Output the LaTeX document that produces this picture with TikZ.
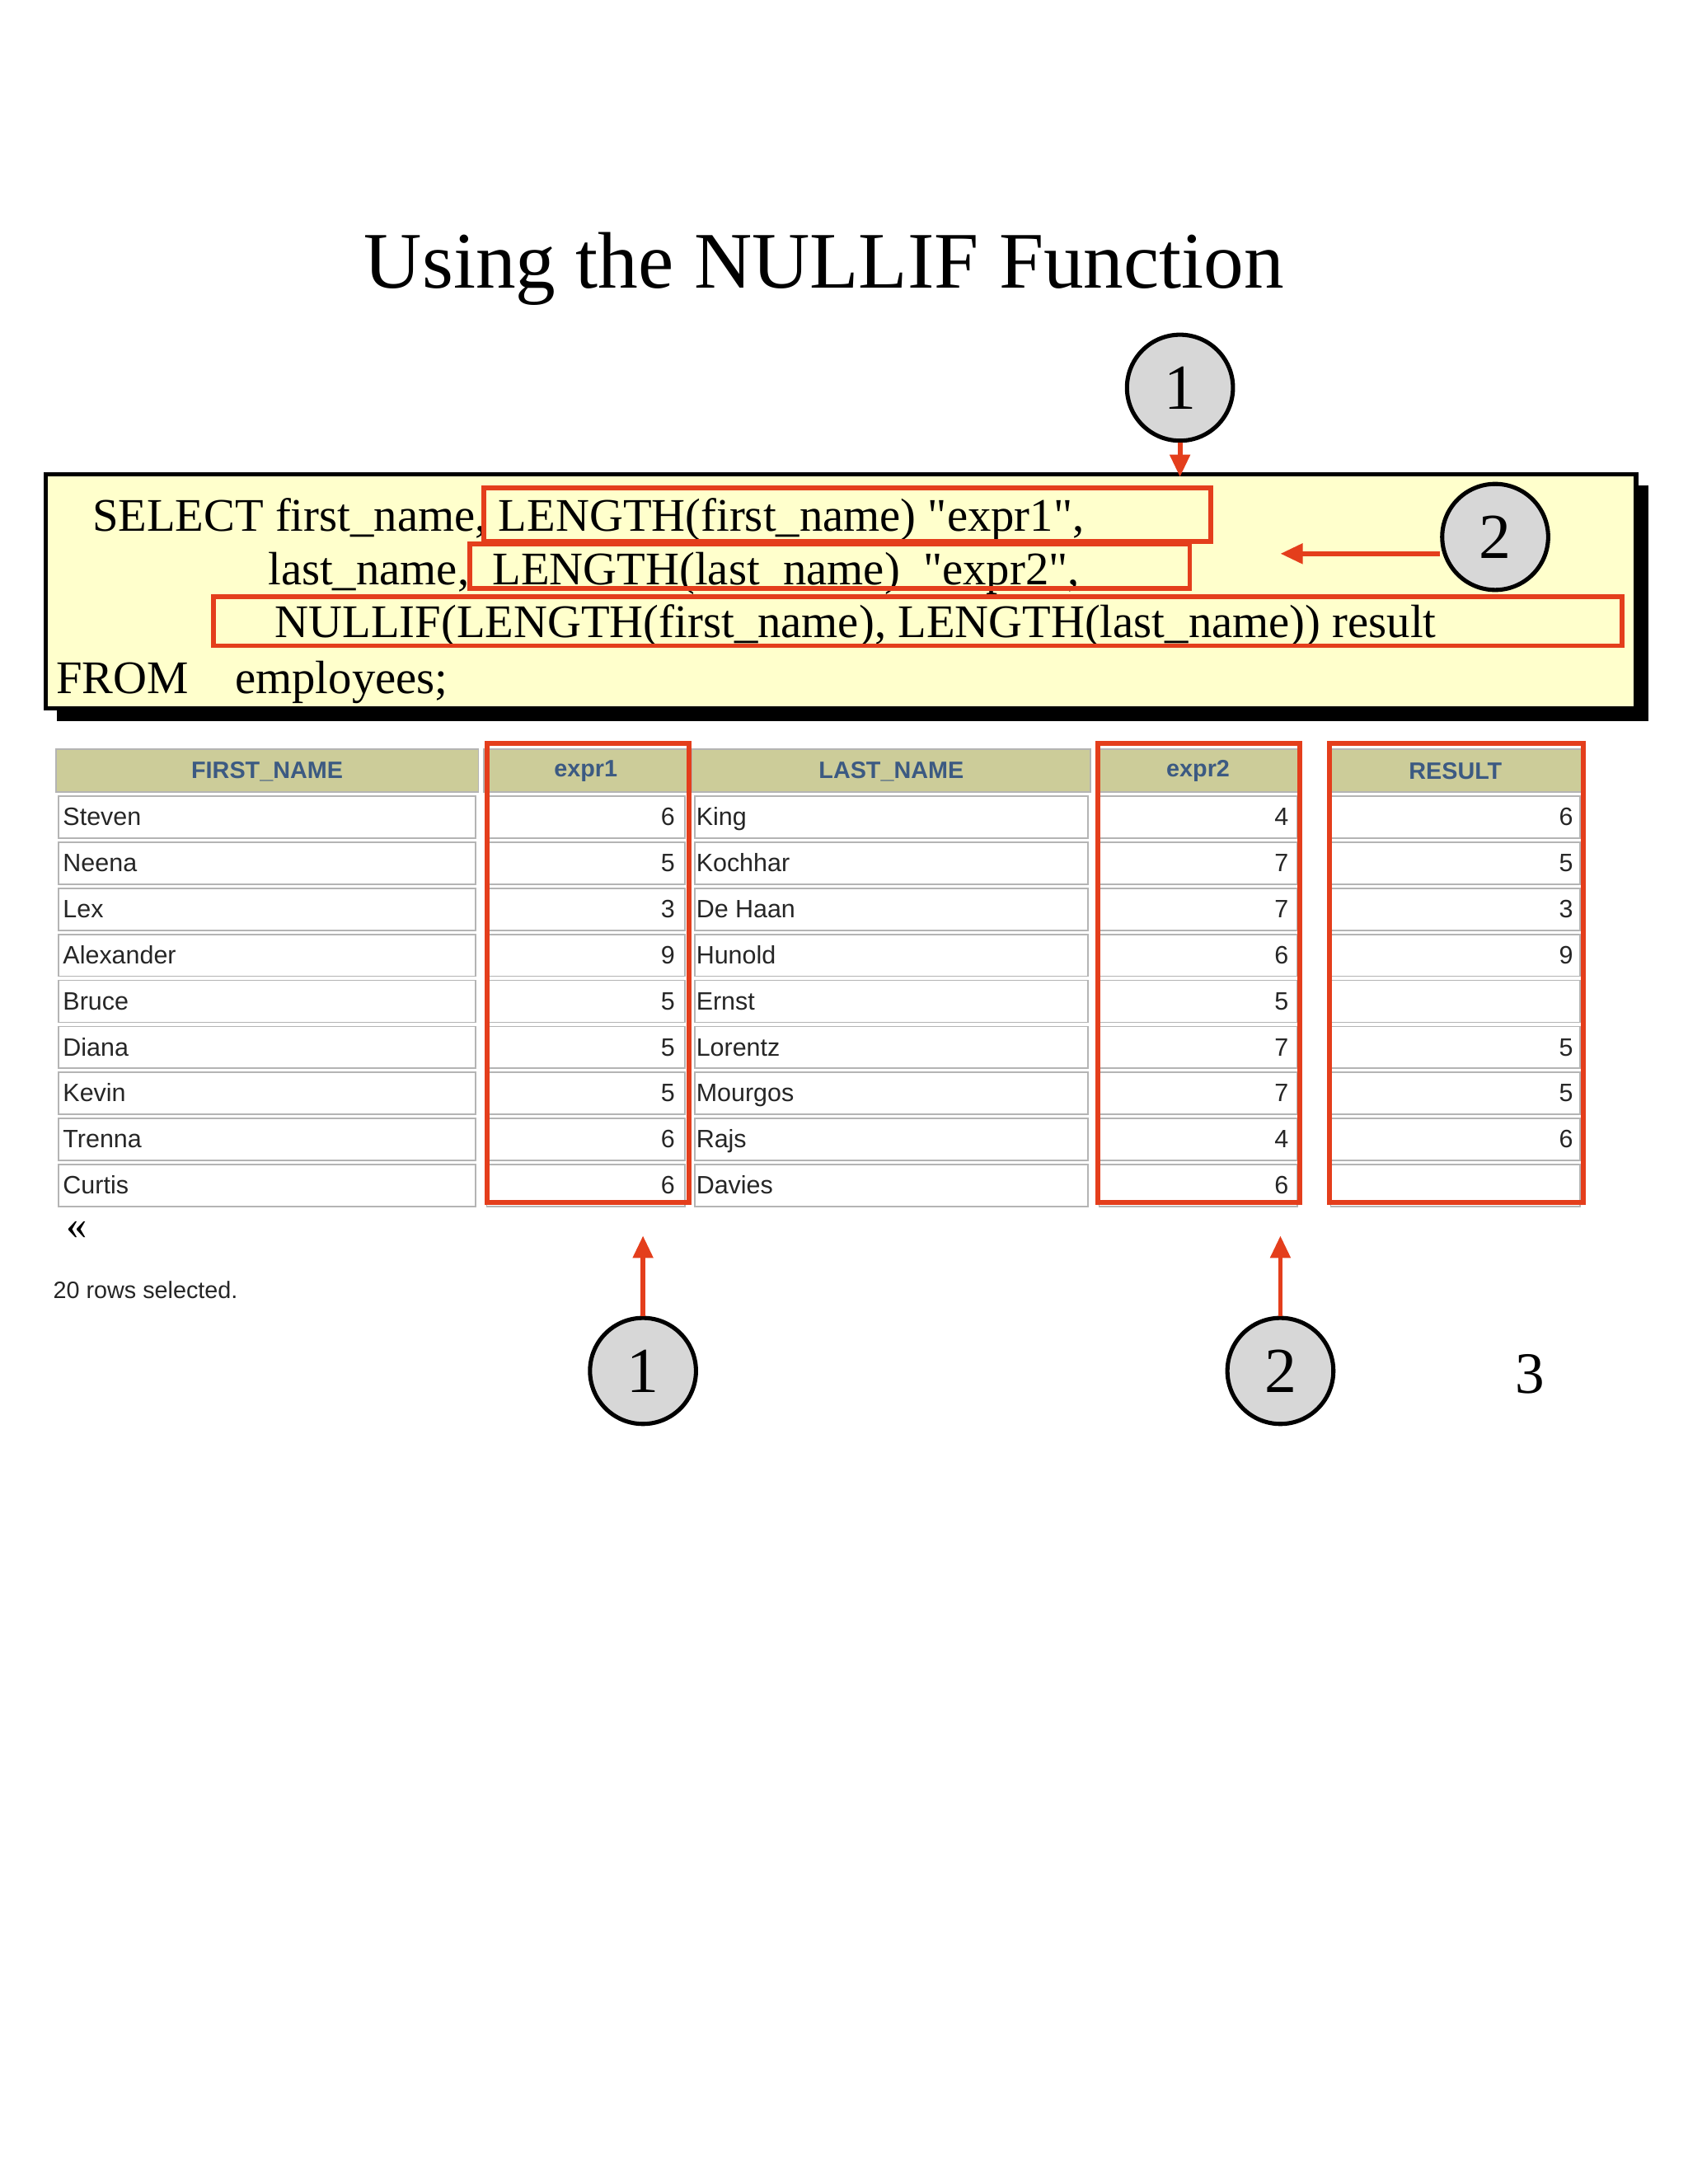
\documentclass[tikz,border=0pt]{standalone}
\usepackage{fontspec}
\setmainfont{Liberation Serif}
\newfontfamily\sqlfont{Liberation Serif}[Ligatures=ResetAll]
\newfontfamily\tabfont{Liberation Sans}
\usetikzlibrary{arrows.meta}
\definecolor{sqlbg}{RGB}{255,255,204}
\definecolor{hl}{RGB}{228,62,28}
\definecolor{hdr}{RGB}{204,204,153}
\definecolor{hdrtxt}{RGB}{60,90,130}
\definecolor{cellb}{RGB}{180,180,180}
\definecolor{circ}{RGB}{215,215,215}
\newcommand{\qq}{\symbol{34}}
\tikzset{
 marker/.style={circle,draw=black,line width=3pt,fill=circ,minimum size=76pt,inner sep=0pt,font=\fontsize{46}{46}\selectfont},
 redbox/.style={draw=hl,line width=3.5pt},
 redarrow/.style={draw=hl,line width=3.5pt,-{Triangle[length=16pt,width=14pt]}},
 sqltxt/.style={anchor=base west,inner sep=0pt,font=\sqlfont\fontsize{33.5}{33.5}\selectfont},
 cell/.style={draw=cellb,line width=1pt,fill=white},
 hcell/.style={draw=cellb,line width=1pt,fill=hdr},
 ctext/.style={inner sep=0pt,font=\tabfont\fontsize{18}{18}\selectfont,text=black!85},
}
\begin{document}
\begin{tikzpicture}[x=1pt,y=-1pt]
\useasboundingbox[fill=white] (0,0) rectangle (1210,1566);
\node[font=\fontsize{57.5}{57.5}\selectfont] (title) at (591,193) {Using the NULLIF Function};
% SQL box
\fill[black] (41,348) rectangle (1182,517);
\draw[fill=sqlbg,line width=3pt] (33,340) rectangle (1173,508);
\node[sqltxt] (l1) at (66,381) {SELECT first\_name, LENGTH(first\_name) \qq expr1\qq,};
\node[sqltxt] (l2) at (192,419) {last\_name,\ \ LENGTH(last\_name)\ \ \qq expr2\qq,};
\node[sqltxt] (l3) at (197,457) {NULLIF(LENGTH(first\_name), LENGTH(last\_name)) result};
\node[sqltxt] (l4) at (40,497) {FROM\ \ \ \ employees;};
\draw[redbox] (347,350) rectangle (868,388);
\draw[redbox] (337,390) rectangle (853,422);
\draw[redbox] (153,428) rectangle (1163,463);
\node[marker] (m1) at (846,278) {1};
\coordinate (a1) at (846,342);
\draw[redarrow] (m1.south) -- (a1);
\node[marker] (m2) at (1072,385) {2};
\coordinate (a2) at (918,397);
\draw[redarrow] (m2.west|-a2) -- (a2);
% table
\foreach \x/\w/\t in {40/303/FIRST\_NAME,347/146/expr1,496/286/LAST\_NAME,786/146/expr2,952/183/RESULT}{
  \draw[hcell] (\x,537) rectangle ++(\w,31);
  \node[ctext,text=hdrtxt,font=\tabfont\bfseries\fontsize{17}{17}\selectfont] at (\x+\w/2,553) {\t};
}
\foreach \fn/\ea/\ln/\eb/\r [count=\i] in {Steven/6/King/4/6,Neena/5/Kochhar/7/5,Lex/3/De Haan/7/3,Alexander/9/Hunold/6/9,Bruce/5/Ernst/5/,Diana/5/Lorentz/7/5,Kevin/5/Mourgos/7/5,Trenna/6/Rajs/4/6,Curtis/6/Davies/6/}{
  \pgfmathsetmacro\yy{537+33*\i}
  \draw[cell] (42,\yy+1) rectangle ++(299,30);
  \draw[cell] (349,\yy+1) rectangle ++(142,30);
  \draw[cell] (498,\yy+1) rectangle ++(282,30);
  \draw[cell] (788,\yy+1) rectangle ++(142,30);
  \draw[cell] (954,\yy+1) rectangle ++(179,30);
  \node[ctext,anchor=base west] at (45,\yy+22) {\fn};
  \node[ctext,anchor=base east] at (484,\yy+22) {\ea};
  \node[ctext,anchor=base west] at (499,\yy+22) {\ln};
  \node[ctext,anchor=base east] at (924,\yy+22) {\eb};
  \node[ctext,anchor=base east] at (1128,\yy+22) {\r};
}
\draw[redbox] (349,533) rectangle (494,862);
\draw[redbox] (787,533) rectangle (932,862);
\draw[redbox] (953,533) rectangle (1135,862);
\node[font=\fontsize{30}{30}\selectfont] (lq) at (55,882) {«};
\node[ctext,anchor=west,font=\tabfont\fontsize{17}{17}\selectfont] (rows) at (38,925) {20 rows selected.};
\node[marker] (m3) at (461,983) {1};
\coordinate (a3) at (461,886);
\draw[redarrow] (m3.north) -- (a3);
\node[marker] (m4) at (918,983) {2};
\coordinate (a4) at (918,886);
\draw[redarrow] (m4.north) -- (a4);
\node[font=\fontsize{42}{42}\selectfont] (n3) at (1097,985) {3};
\end{tikzpicture}
\end{document}
